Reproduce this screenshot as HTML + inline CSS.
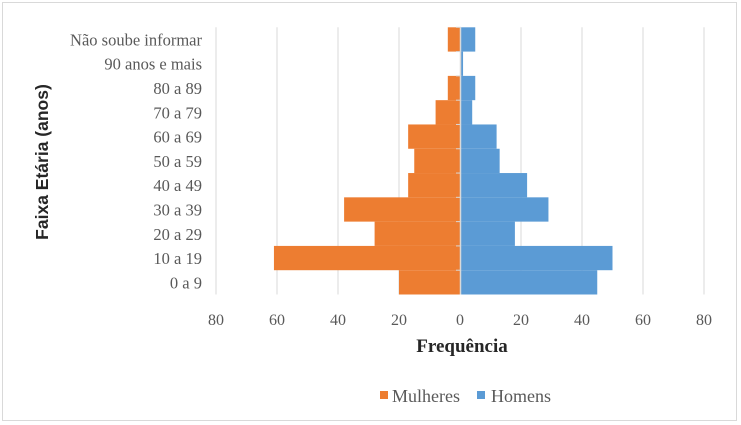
<!DOCTYPE html>
<html><head><meta charset="utf-8"><style>
body{margin:0;background:#fff;}
svg{display:block;font-family:"Liberation Serif",serif;}
</style></head><body>
<svg id="chart" width="741" height="425">
<rect x="2.5" y="2.5" width="734" height="418" fill="#fff" stroke="#d9d9d9"/>
<g id="grid"></g><g id="bars"></g><g id="axis"></g><g id="labels"></g>
<text x="462" y="352" text-anchor="middle" font-size="19" font-weight="bold" fill="#262626">Frequência</text>
<text transform="translate(48,162) rotate(-90)" text-anchor="middle" font-family="Liberation Sans, sans-serif" font-size="17.5" font-weight="bold" fill="#262626">Faixa Etária  (anos)</text>
<g>
<rect x="380" y="391" width="8" height="8" fill="#ed7d31"/>
<text x="392" y="402" font-size="18" fill="#595959">Mulheres</text>
<rect x="477" y="391" width="8" height="8" fill="#5b9bd5"/>
<text x="491" y="402" font-size="18" fill="#595959">Homens</text>
</g>
</svg>
<script>
const categories=["Não soube informar","90 anos e mais","80 a 89","70 a 79","60 a 69","50 a 59","40 a 49","30 a 39","20 a 29","10 a 19","0 a 9"];
const mulheres=[4,0,4,8,17,15,17,38,28,61,20];
const homens=[5,1,5,4,12,13,22,29,18,50,45];
const ticks=[-80,-60,-40,-20,0,20,40,60,80];
const tickLabels=["80","60","40","20","0","20","40","60","80"];
const NS="http://www.w3.org/2000/svg";
const x0=460,ppu=3.05,plotTop=27.3,plotBottom=294.5;
const band=(plotBottom-plotTop)/categories.length;
function xs(v){return x0+v*ppu;}
function yb(i){return plotTop+i*band;}
function mk(t,a,p){const e=document.createElementNS(NS,t);for(const k in a)e.setAttribute(k,a[k]);p.appendChild(e);return e;}
const G=document.getElementById('grid'),B=document.getElementById('bars'),A=document.getElementById('axis'),L=document.getElementById('labels');
ticks.forEach((t,i)=>{
 if(t!==0){const l=mk('line',{x1:xs(t),x2:xs(t),y1:plotTop,y2:plotBottom,stroke:'#d9d9d9','stroke-width':1},G);
 
 }
 const tx=mk('text',{x:xs(t),y:325,'text-anchor':'middle','font-size':16,fill:'#595959'},L);
 tx.textContent=tickLabels[i];
 
 
});
categories.forEach((c,i)=>{
 const w=mk('rect',{x:xs(-mulheres[i]),y:yb(i),width:mulheres[i]*ppu,height:band,fill:'#ed7d31'},B);
 
 
 const h=mk('rect',{x:xs(0),y:yb(i),width:homens[i]*ppu,height:band,fill:'#5b9bd5'},B);
 
 
 const tx=mk('text',{x:202,y:yb(i)+band/2+6,'text-anchor':'end','font-size':16.5,fill:'#595959'},L);
 tx.textContent=c;
 
 
 const tk=mk('line',{x1:x0-4,x2:x0+1,y1:yb(i),y2:yb(i),stroke:'#d9d9d9'},A);
 
 
});
const ax=mk('line',{x1:x0+0.5,x2:x0+0.5,y1:plotTop,y2:plotBottom,stroke:'#d9d9d9','stroke-width':1.5},A);


</script>
</body></html>
